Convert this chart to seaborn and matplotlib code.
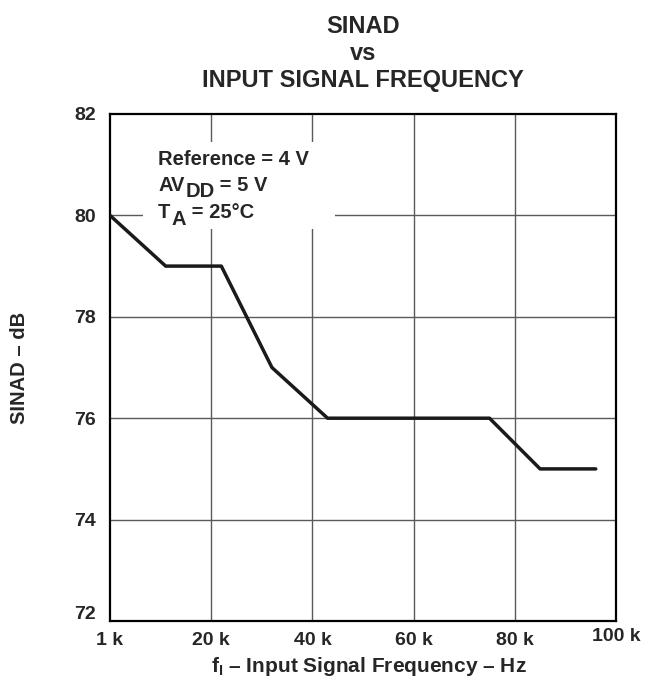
import matplotlib
matplotlib.use("Agg")
import matplotlib.pyplot as plt
import matplotlib.transforms as mtransforms
from matplotlib.patches import Rectangle
import pandas as pd
import seaborn as sns

# Data (x in kHz on the 0..100 axis, first tick is labelled "1 k")
freq_khz = [0, 11, 22, 32, 43, 75, 85, 96]
sinad_db = [80, 79, 79, 77, 76, 76, 75, 75]

x_ticks = [0, 20, 40, 60, 80, 100]
x_tick_labels = ["1 k", "20 k", "40 k", "60 k", "80 k", "100 k"]
y_ticks = [72, 74, 76, 78, 80, 82]

# condition lines: (main text, subscript, rest)
cond_lines = [("Reference = 4 V", "", ""),
              ("AV", "DD", " = 5 V"),
              ("T", "A", " = 25°C")]

df = pd.DataFrame({"freq": freq_khz, "sinad": sinad_db})

sns.set_style("white")
plt.rcParams['font.family'] = ['Liberation Sans', 'DejaVu Sans']
plt.rcParams['font.weight'] = 'bold'
plt.rcParams['mathtext.fontset'] = 'custom'
plt.rcParams['mathtext.rm'] = 'Liberation Sans:bold'
plt.rcParams['mathtext.it'] = 'Liberation Sans:bold'
plt.rcParams['mathtext.bf'] = 'Liberation Sans:bold'

fig = plt.figure(figsize=(6.49, 6.83), dpi=100)
ax = fig.add_axes([110 / 649, 1 - 621 / 683, 506 / 649, 507 / 683])

# grid
for xt in x_ticks[1:-1]:
    ax.axvline(xt, color="#5a5a5a", lw=1.0, zorder=1)
for yt in y_ticks[1:-1]:
    ax.axhline(yt, color="#5a5a5a", lw=1.0, zorder=1)

sns.lineplot(data=df, x="freq", y="sinad", color="#1a1a1a", lw=2.5, ax=ax, zorder=3)

ax.set_xlim(0, 100)
ax.set_ylim(72, 82)
ax.set_xticks(x_ticks)
ax.set_xticklabels(x_tick_labels)
ax.set_yticks(y_ticks)
ax.tick_params(axis="both", length=0, labelsize=14)
ax.tick_params(axis="x", pad=8)
ax.tick_params(axis="y", pad=10)
for lbl in ax.get_xticklabels() + ax.get_yticklabels():
    lbl.set_fontweight("bold")

# small quirks of the original: "72" sits above the corner, "100 k" a bit higher
lbl72 = ax.get_yticklabels()[0]
lbl72.set_transform(lbl72.get_transform() + mtransforms.ScaledTranslation(0, 6 / 72, fig.dpi_scale_trans))
lbl100 = ax.get_xticklabels()[-1]
lbl100.set_transform(lbl100.get_transform() + mtransforms.ScaledTranslation(0, 3 / 72, fig.dpi_scale_trans))

for sp in ax.spines.values():
    sp.set_visible(True)
    sp.set_color("black")
    sp.set_linewidth(1.6)

# white area behind the conditions text
ax.add_patch(Rectangle((6.5, 79.73), 38, 1.72, facecolor="white", edgecolor="none", zorder=2))

baselines = [80.99, 80.48, 79.94]
for (main, sub, rest), yb in zip(cond_lines, baselines):
    t = ax.text(9.5, yb, main, fontsize=14.5, fontweight="bold", va="baseline", ha="left", zorder=4)
    if sub:
        s = ax.annotate(sub, xy=(1, 0), xycoords=t, xytext=(0.5, -4.5), textcoords="offset points",
                        fontsize=14.5, fontweight="bold", va="bottom", ha="left", zorder=4)
        # rest of the line right after the subscript, back on the main baseline
        ax.annotate(rest, xy=(1, 0), xycoords=(s, t), xytext=(0, 0), textcoords="offset points",
                    fontsize=14.5, fontweight="bold", va="bottom", ha="left", zorder=4)

# title as three centred lines
tx = (110 + 253) / 649
for txt, yb in zip(["SINAD", "vs", "INPUT SIGNAL FREQUENCY"], [33, 60, 87]):
    fig.text(tx, 1 - yb / 683, txt, fontsize=17, fontweight="bold", ha="center", va="baseline")

ax.set_xlabel("f$_I$ – Input Signal Frequency – Hz", fontsize=15, fontweight="bold")
ax.set_ylabel("SINAD – dB", fontsize=14.5, fontweight="bold")
ax.xaxis.set_label_coords(0.512, -0.068)
ax.yaxis.set_label_coords(-0.160, 0.5)

fig.savefig("out.png", dpi=100)
